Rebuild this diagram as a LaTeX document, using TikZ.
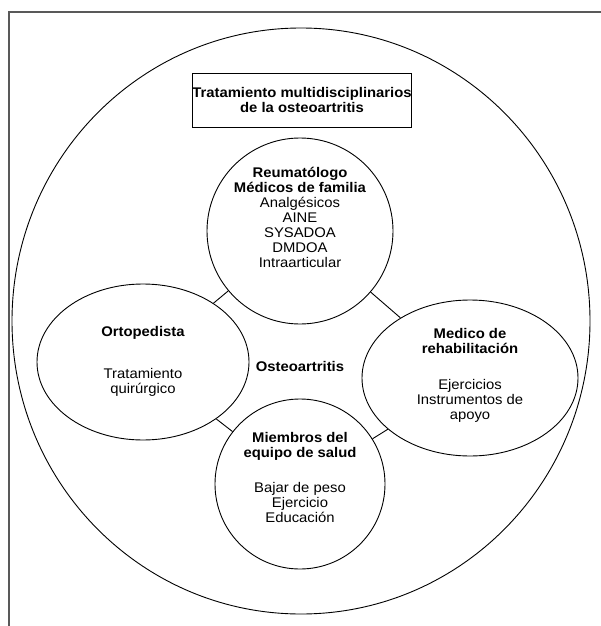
\documentclass[tikz,border=0pt]{standalone}
\usepackage{fontspec}
\setmainfont{Liberation Sans}[FakeStretch=1.06]
\usetikzlibrary{shapes.geometric}
\begin{document}
\begin{tikzpicture}[x=1pt,y=-1pt,
  bub/.style={draw, line width=0.9pt, inner sep=0pt},
  lbl/.style={align=center, inner sep=0pt, font=\fontsize{14}{15}\selectfont},
  conn/.style={draw, line width=0.9pt},
  frameline/.style={draw=black!65, line width=1.4pt}]
\useasboundingbox (0,0) rectangle (601,626);
\coordinate (fa) at (9,626);
\coordinate (fb) at (9,12);
\coordinate (fc) at (601,12);
\draw[frameline] (fa) -- (fb) -- (fc);
\node[bub, ellipse, minimum width=578pt, minimum height=586pt] (outer) at (301,321) {};
\node[draw, line width=0.9pt, minimum width=210pt, minimum height=54pt, lbl, font=\fontsize{14}{15}\selectfont\bfseries] (title) at (302,100) {Tratamiento multidisciplinarios\\de la osteoartritis};
\node[bub, circle, minimum size=186pt] (reu) at (300,231) {};
\node[bub, ellipse, minimum width=212pt, minimum height=156pt] (orto) at (143,362) {};
\node[bub, ellipse, minimum width=216pt, minimum height=156pt] (rehab) at (470,378) {};
\node[bub, circle, minimum size=170pt] (equipo) at (300,484) {};
\node[lbl] (reutxt) at (300,217) {\textbf{Reumatólogo}\\\textbf{Médicos de familia}\\Analgésicos\\AINE\\SYSADOA\\DMDOA\\Intraarticular};
\node[lbl] (ortotxt) at (143,361) {\textbf{Ortopedista}\\[27pt]Tratamiento\\quirúrgico};
\node[lbl] (rehabtxt) at (470,375.5) {\textbf{Medico de}\\\textbf{rehabilitación}\\[21pt]Ejercicios\\Instrumentos de\\apoyo};
\node[lbl] (equipotxt) at (300,477) {\textbf{Miembros del}\\\textbf{equipo de salud}\\[20pt]Bajar de peso\\Ejercicio\\Educación};
\node[lbl, font=\fontsize{14}{15}\selectfont\bfseries] (oa) at (300,366) {Osteoartritis};
\draw[conn] (reu) -- (orto);
\draw[conn] (reu) -- (rehab);
\draw[conn] (orto) -- (equipo);
\draw[conn] (rehab) -- (equipo);
\end{tikzpicture}
\end{document}
